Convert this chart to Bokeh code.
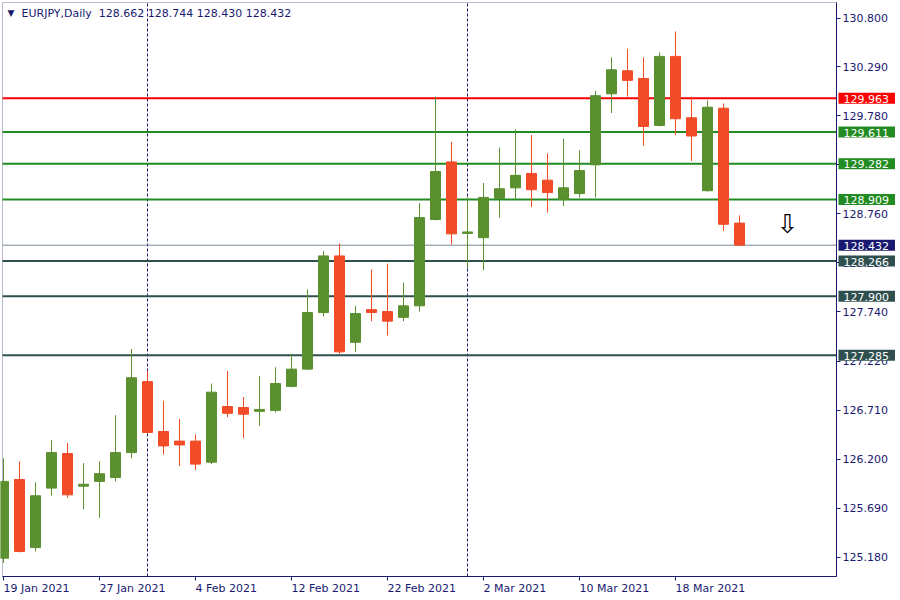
from bokeh.plotting import figure
from bokeh.models import (ColumnDataSource, Range1d, FixedTicker, NumeralTickFormatter,
                          CustomJSTickFormatter, BoxAnnotation, Label, LabelSet)
from bokeh.core.properties import value
from bokeh.embed import file_html
from bokeh.resources import INLINE

# ---------------- data ----------------
symbol = "EURJPY,Daily"
dates = [
    "19 Jan 2021", "20 Jan 2021", "21 Jan 2021", "22 Jan 2021", "25 Jan 2021",
    "26 Jan 2021", "27 Jan 2021", "28 Jan 2021", "29 Jan 2021",
    "1 Feb 2021", "2 Feb 2021", "3 Feb 2021", "4 Feb 2021", "5 Feb 2021",
    "8 Feb 2021", "9 Feb 2021", "10 Feb 2021", "11 Feb 2021", "12 Feb 2021",
    "15 Feb 2021", "16 Feb 2021", "17 Feb 2021", "18 Feb 2021", "19 Feb 2021",
    "22 Feb 2021", "23 Feb 2021", "24 Feb 2021", "25 Feb 2021", "26 Feb 2021",
    "1 Mar 2021", "2 Mar 2021", "3 Mar 2021", "4 Mar 2021", "5 Mar 2021",
    "8 Mar 2021", "9 Mar 2021", "10 Mar 2021", "11 Mar 2021", "12 Mar 2021",
    "15 Mar 2021", "16 Mar 2021", "17 Mar 2021", "18 Mar 2021", "19 Mar 2021",
    "22 Mar 2021", "23 Mar 2021", "24 Mar 2021",
]
opens = [125.17, 125.99, 125.28, 125.90, 126.26, 125.92, 125.97, 126.01, 126.27,
         127.01, 126.49, 126.39, 126.39, 126.17, 126.75, 126.74, 126.70, 126.71, 126.96,
         127.14, 127.73, 128.32, 127.42, 127.76, 127.74, 127.68, 127.80, 128.70, 129.30,
         128.555, 128.51, 128.92, 129.03, 129.18, 129.11, 128.91, 128.97, 129.27, 130.01,
         130.25, 130.17, 129.68, 130.40, 129.76, 129.00, 129.86, 128.662]
highs = [126.21, 126.18, 125.96, 126.40, 126.37, 126.16, 126.18, 126.66, 127.35,
         127.12, 126.81, 126.62, 126.46, 126.99, 127.12, 126.85, 127.07, 127.16, 127.30,
         127.97, 128.37, 128.45, 127.80, 128.18, 128.24, 128.04, 128.87, 129.98, 129.51,
         128.93, 129.08, 129.45, 129.64, 129.58, 129.39, 129.54, 129.42, 130.04, 130.39,
         130.48, 130.39, 130.44, 130.66, 129.98, 129.94, 129.91, 128.744]
lows = [125.12, 125.23, 125.24, 125.82, 125.80, 125.68, 125.59, 125.97, 126.21,
        126.47, 126.25, 126.13, 126.09, 126.15, 126.64, 126.42, 126.55, 126.69, 126.95,
        127.13, 127.69, 127.30, 127.32, 127.64, 127.49, 127.64, 127.74, 128.69, 128.44,
        128.19, 128.17, 128.72, 128.91, 128.83, 128.77, 128.84, 128.93, 128.93, 129.81,
        129.98, 129.47, 129.67, 129.58, 129.31, 128.99, 128.58, 128.430]
closes = [125.97, 125.24, 125.82, 126.27, 125.83, 125.94, 126.05, 126.27, 127.05,
          126.48, 126.34, 126.35, 126.15, 126.90, 126.68, 126.67, 126.72, 126.99, 127.14,
          127.73, 128.32, 127.32, 127.72, 127.73, 127.64, 127.80, 128.72, 129.20, 128.55,
          128.57, 128.93, 129.02, 129.16, 129.01, 128.98, 129.03, 129.21, 129.99, 130.26,
          130.15, 129.67, 130.40, 129.75, 129.57, 129.87, 128.65, 128.432]
tick_labels = ["19 Jan 2021", "27 Jan 2021", "4 Feb 2021", "12 Feb 2021",
               "22 Feb 2021", "2 Mar 2021", "10 Mar 2021", "18 Mar 2021"]
separator_dates = ["1 Feb 2021", "1 Mar 2021"]
y_ticks = [130.800, 130.290, 129.780, 129.270, 128.760, 128.250, 127.740,
           127.220, 126.710, 126.200, 125.690, 125.180]
red_levels = [129.963]
green_levels = [129.611, 129.282, 128.909]
dark_levels = [128.266, 127.900, 127.285]
bid_price = 128.432
arrow_bar = 49          # bar slot of the down arrow (future slot)
arrow_price = 128.648

# ---------------- layout / style ----------------
NAVY = "#191970"
BULL = "#5a902f"
BEAR = "#f24b27"
RED_LV = "#ff0000"
GREEN_LV = "#228b22"
DARK_LV = "#2f4f4f"
BID_LN = "#778899"
FONT = "DejaVu Sans"

W, H = 896, 598            # canvas == plotting frame
BAR_PX = 16.0              # pixels per bar
X_PX0 = 3.0                # pixel of bar 0
PXU = 95.94                # pixels per price unit
REF_PRICE, REF_PX = 130.8, 17.5

X_START = -X_PX0 / BAR_PX
X_END = X_START + W / BAR_PX
Y_TOP = REF_PRICE + REF_PX / PXU
Y_BOT = Y_TOP - H / PXU


def bar_at(px):
    return X_START + px / BAR_PX


def price_at(py):
    return Y_TOP - py / PXU


CH_LEFT, CH_RIGHT = bar_at(2), bar_at(836)      # chart box
CH_TOP, CH_BOT = price_at(2), price_at(576)

idx = list(range(len(dates)))
colors = [BULL if c >= o else BEAR for o, c in zip(opens, closes)]
src = ColumnDataSource(dict(
    x=idx, high=highs, low=lows,
    top=[max(o, c) for o, c in zip(opens, closes)],
    bottom=[min(o, c) for o, c in zip(opens, closes)],
    color=colors,
))

p = figure(frame_width=W, frame_height=H,
           x_range=Range1d(X_START, X_END), y_range=Range1d(Y_BOT, Y_TOP),
           y_axis_location="right", output_backend="svg", toolbar_location=None,
           min_border=0)
p.background_fill_color = "white"
p.border_fill_color = "white"
p.outline_line_color = None
p.xgrid.visible = False
p.ygrid.visible = False

# chart box
p.add_layout(BoxAnnotation(left=CH_LEFT, right=CH_RIGHT, bottom=CH_BOT, top=CH_TOP,
                           fill_alpha=0, line_color=NAVY, line_width=1, level="underlay"))

# axes (placed on the chart box edges)
tick_idx = [dates.index(t) for t in tick_labels]
xa = p.xaxis[0]
xa.fixed_location = CH_BOT
xa.bounds = (CH_LEFT, CH_RIGHT)
xa.ticker = FixedTicker(ticks=tick_idx)
xa.formatter = CustomJSTickFormatter(code="return ''")
xa.axis_line_color = NAVY
xa.major_tick_line_color = NAVY
xa.major_tick_out = 4
xa.major_tick_in = 0
xa.minor_tick_line_color = None

ya = p.yaxis[0]
ya.fixed_location = CH_RIGHT
ya.bounds = (CH_BOT, CH_TOP)
ya.ticker = FixedTicker(ticks=y_ticks)
ya.formatter = NumeralTickFormatter(format="0.000")
ya.axis_line_color = NAVY
ya.major_tick_line_color = NAVY
ya.major_tick_out = 4
ya.major_tick_in = 0
ya.minor_tick_line_color = None
ya.major_label_standoff = 2
ya.major_label_text_font = FONT
ya.major_label_text_font_size = "11px"
ya.major_label_text_color = NAVY

# period separators
sep_x = [dates.index(d) for d in separator_dates]
p.segment(x0=sep_x, x1=sep_x, y0=[CH_BOT] * len(sep_x), y1=[CH_TOP] * len(sep_x),
          line_color=NAVY, line_width=1, line_dash="3 2")


# level lines
def level_lines(levels, color, width):
    n = len(levels)
    p.segment(x0=[CH_LEFT] * n, x1=[CH_RIGHT] * n, y0=levels, y1=levels,
              line_color=color, line_width=width)


level_lines(red_levels, RED_LV, 2)
level_lines(green_levels, GREEN_LV, 2)
level_lines(dark_levels, DARK_LV, 2)
level_lines([bid_price], BID_LN, 1)

# candles
p.segment(x0="x", y0="low", x1="x", y1="high", line_color="color", line_width=1, source=src)
p.vbar(x="x", width=10 / 16, top="top", bottom="bottom", fill_color="color",
       line_color="color", line_width=1, source=src)

# arrow
p.text(x=[arrow_bar], y=[arrow_price], text=["\u21e9"], text_font=value(FONT),
       text_font_size="26px", text_align="center", text_baseline="middle",
       text_color="black")


# price tags on the right
def price_tag(lv, bg):
    p.add_layout(Label(x=CH_RIGHT, y=lv, x_offset=2, text=f"{lv:.3f}", text_align="left",
                       text_baseline="middle", text_font=FONT, text_font_size="11px",
                       text_color="white", background_fill_color=bg,
                       padding=dict(left=5, right=6, top=2, bottom=1), level="overlay"))


for lv in red_levels:
    price_tag(lv, RED_LV)
for lv in green_levels:
    price_tag(lv, GREEN_LV)
price_tag(bid_price, NAVY)
for lv in dark_levels:
    price_tag(lv, DARK_LV)

# date labels
p.add_layout(LabelSet(x="x", y="y", text="text", source=ColumnDataSource(dict(
    x=tick_idx, y=[price_at(587.5)] * len(tick_idx), text=tick_labels)),
    text_align="left", text_baseline="middle", text_font=value(FONT),
    text_font_size="11px", text_color=NAVY, level="overlay"))

# header
p.add_layout(Label(x=bar_at(7), y=price_at(12), text="\u25bc", text_align="left",
                   text_baseline="middle", text_font=FONT, text_font_size="9px",
                   text_color=NAVY, level="overlay"))
header = (f"{symbol}\u00a0\u00a0{opens[-1]:.3f} {highs[-1]:.3f} "
          f"{lows[-1]:.3f} {closes[-1]:.3f}")
p.add_layout(Label(x=bar_at(21), y=price_at(12.5), text=header, text_align="left",
                   text_baseline="middle", text_font=FONT, text_font_size="11px",
                   text_color=NAVY, level="overlay"))

open("out.html", "w").write(file_html(p, INLINE))
